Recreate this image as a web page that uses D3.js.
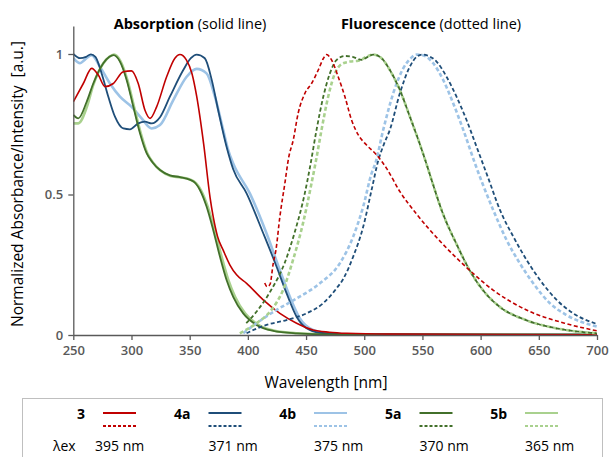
<!DOCTYPE html>
<html>
<head>
<meta charset="utf-8">
<script src="https://d3js.org/d3.v7.min.js"></script>
<style>
    body { margin: 0; background: #fff; }
    text { font-family: "Open Sans", sans-serif; }
</style>
</head>
<body>
<script>
    // compounds and their excitation wavelengths
    var compounds = ["3", "4a", "4b", "5a", "5b"];
    var excitation = ["395 nm", "371 nm", "375 nm", "370 nm", "365 nm"];
    var xTicks = [250, 300, 350, 400, 450, 500, 550, 600, 650, 700];
    var yTicks = [0, 0.5, 1];

    // absorption spectra [wavelength, normalized value]
    var abs3 = [[250,0.83],[258.6,0.895],[265.8,0.949],[271.5,0.925],[277.2,0.884],[284.4,0.895],[293,0.937],[300,0.94],
        [305.8,0.895],[311.6,0.80],[316,0.771],[321.6,0.812],[330.2,0.919],[337.3,0.985],[341.6,0.998],[347,0.98],
        [352,0.93],[356,0.85],[362,0.68],[367.5,0.49],[370.2,0.421],[374,0.35],[378.8,0.302],[384.6,0.249],
        [390.3,0.214],[398.9,0.184],[413.2,0.125],[427.5,0.077],[441.9,0.042],[456,0.018],[470,0.01],[485,0.006],
        [520,0.003],[700,0.001]];
    var abs4a = [[250,1.0],[255.8,0.985],[261,0.99],[265,0.999],[269,0.99],[274.4,0.93],[280.1,0.848],[285.8,0.777],
        [293,0.735],[298.7,0.732],[305.8,0.753],[311.6,0.759],[317.3,0.753],[324.5,0.775],[333,0.848],[344.5,0.943],
        [351,0.985],[356,0.998],[363,0.985],[369,0.907],[374.5,0.80],[381.7,0.67],[387.4,0.59],[398.9,0.504],
        [413.2,0.362],[424.7,0.243],[433.3,0.148],[441.9,0.065],[450.4,0.024],[462,0.008],[480,0.003],[700,0.001]];
    var abs4b = [[250,0.985],[255.8,0.967],[260,0.98],[265.8,0.996],[272.9,0.955],[281.5,0.895],[290.1,0.848],
        [300.1,0.812],[308.7,0.771],[317.3,0.735],[324.5,0.747],[335.9,0.836],[347.4,0.919],[356,0.947],[364.5,0.931],
        [371.7,0.848],[378.8,0.73],[383,0.66],[387.4,0.61],[401.7,0.504],[416,0.362],[427.5,0.231],[436.1,0.136],
        [444.7,0.059],[456,0.018],[470,0.006],[490,0.002],[700,0.001]];
    var abs5a = [[250,0.783],[254.3,0.771],[261.5,0.83],[267.2,0.895],[275.8,0.967],[281,0.99],[284.4,0.996],
        [290.1,0.973],[295.9,0.907],[301.6,0.812],[307.3,0.718],[313,0.647],[318,0.615],[324.5,0.587],[333,0.568],
        [341.6,0.562],[350,0.553],[355,0.54],[358.8,0.516],[364.5,0.457],[370.2,0.374],[376,0.279],[381.7,0.196],
        [387.4,0.136],[396,0.077],[407.4,0.036],[421.8,0.015],[441.9,0.006],[470,0.002],[700,0.001]];
    var abs5b = [[250,0.753],[254.3,0.753],[261.5,0.81],[267.2,0.89],[275.8,0.967],[281,0.99],[285,0.998],
        [290.5,0.975],[296.5,0.907],[302.2,0.812],[308,0.718],[313.6,0.647],[318.6,0.613],[325,0.585],[333.5,0.566],
        [342,0.561],[350.5,0.553],[355.6,0.54],[359.6,0.516],[365.5,0.457],[371.4,0.374],[377.4,0.279],[383.2,0.196],
        [389,0.136],[397.6,0.077],[409,0.036],[423,0.015],[443,0.006],[470,0.002],[700,0.001]];

    // fluorescence spectra [wavelength, normalized value]
    var fl3 = [[414.5,0.185],[416.5,0.172],[419,0.18],[421.8,0.255],[424.1,0.302],[427.5,0.421],[431.8,0.54],
        [435,0.63],[439,0.694],[443.2,0.789],[449,0.86],[454.7,0.895],[460.5,0.943],[465,0.985],[467.6,0.998],
        [471.9,0.979],[477.6,0.919],[483.4,0.848],[489.1,0.765],[494.9,0.712],[502,0.676],[510.6,0.641],[519.2,0.593],
        [530.7,0.51],[545,0.43],[566,0.33],[588,0.24],[610.7,0.16],[639.4,0.089],[673.8,0.04],[700,0.015]];
    var fl4a = [[398.9,0.006],[407,0.022],[416,0.036],[433.2,0.053],[450.4,0.077],[464.7,0.113],[476,0.165],
        [482,0.2],[490.5,0.279],[499.1,0.385],[506.3,0.516],[512,0.62],[517,0.68],[522,0.73],[530.6,0.86],
        [539.2,0.955],[545,0.99],[550,0.998],[554,0.995],[562.1,0.973],[570.7,0.919],[579.3,0.848],[587.9,0.765],
        [596.5,0.67],[606.4,0.56],[616.6,0.445],[628.1,0.35],[639.5,0.267],[651,0.196],[665.3,0.125],[679.6,0.077],
        [700,0.039]];
    var fl4b = [[396,0.006],[407.4,0.042],[424.6,0.089],[441.8,0.13],[461.9,0.184],[479,0.255],[490.5,0.35],
        [499.1,0.457],[506.3,0.575],[509.5,0.61],[516.3,0.73],[524.9,0.86],[533.5,0.949],[540,0.985],[545,0.998],
        [549,0.997],[559.3,0.967],[567.9,0.907],[576.5,0.824],[585.1,0.73],[595.1,0.611],[601.5,0.54],[610.8,0.445],
        [622.3,0.338],[633.7,0.255],[645.2,0.184],[659.5,0.113],[673.8,0.071],[700,0.03]];
    var fl5a = [[398.6,0.042],[408.6,0.089],[420,0.16],[431.5,0.255],[440,0.362],[448.9,0.504],[453.5,0.6],
        [459,0.73],[464.8,0.848],[470.5,0.931],[476.3,0.979],[483.4,0.993],[490,0.99],[497.7,0.979],[503,0.99],
        [507.7,0.998],[514.9,0.985],[522,0.943],[530.6,0.872],[539.2,0.777],[547.7,0.68],[553,0.615],[558,0.55],
        [567.5,0.433],[579,0.326],[590.5,0.231],[601.9,0.16],[616.2,0.101],[639.1,0.053],[664.9,0.024],[700,0.006]];
    var fl5b = [[393.1,0.006],[407.4,0.042],[420.2,0.089],[430.2,0.16],[438.8,0.267],[447.4,0.398],[454.7,0.54],
        [458.5,0.62],[463.3,0.73],[469,0.848],[474.8,0.931],[480.5,0.964],[487.7,0.973],[494.9,0.976],[502,0.99],
        [507.7,0.998],[514.9,0.985],[522,0.943],[530.6,0.872],[539.2,0.777],[547.7,0.68],[553,0.615],[558,0.55],
        [567.5,0.433],[579,0.326],[590.5,0.231],[601.9,0.16],[616.2,0.101],[639.1,0.053],[664.9,0.024],[700,0.006]];

    var colors = ["#c00000", "#1f4e79", "#9dc3e6", "#42702a", "#a9d18e"];
    var widths = [1.6, 1.8, 2.6, 1.8, 2.6];

    var W = 609, H = 457;
    var svg = d3.select("body").append("svg")
        .attr("width", W)
        .attr("height", H);

    var x = d3.scaleLinear().domain([250, 700]).range([73.3, 597]);
    var y = d3.scaleLinear().domain([0, 1.1]).range([335, 25.9]);

    var line = d3.line()
        .x(d => x(d[0]))
        .y(d => y(d[1]))
        .curve(d3.curveMonotoneX);

    svg.append("clipPath").attr("id", "plot")
        .append("rect").attr("x", 73).attr("y", 20).attr("width", 526).attr("height", 318);

    var series = [
        {abs: abs3, fl: fl3, i: 0},
        {abs: abs4a, fl: fl4a, i: 1},
        {abs: abs4b, fl: fl4b, i: 2},
        {abs: abs5a, fl: fl5a, i: 3},
        {abs: abs5b, fl: fl5b, i: 4}
    ];
    // light curves underneath the dark ones
    var drawOrder = [2, 4, 1, 3, 0];

    var g = svg.append("g").attr("clip-path", "url(#plot)");

    drawOrder.forEach(function(k) {
        var s = series[k];
        g.append("path")
            .attr("d", line(s.abs))
            .attr("fill", "none")
            .attr("stroke", colors[s.i])
            .attr("stroke-width", widths[s.i]);
    });
    drawOrder.forEach(function(k) {
        var s = series[k];
        g.append("path")
            .attr("d", line(s.fl))
            .attr("fill", "none")
            .attr("stroke", colors[s.i])
            .attr("stroke-width", widths[s.i])
            .attr("stroke-dasharray", "4,2.5");
    });

    // axes
    var xAxis = svg.append("g")
        .attr("transform", "translate(0,335)")
        .call(d3.axisBottom(x).tickValues(xTicks).tickSize(5).tickSizeOuter(0));
    var yAxis = svg.append("g")
        .attr("transform", "translate(73.3,0)")
        .call(d3.axisLeft(y).tickValues(yTicks).tickSize(5).tickSizeOuter(0).tickFormat(d3.format("")));

    [xAxis, yAxis].forEach(function(a) {
        a.select(".domain").attr("stroke", "#595959").attr("stroke-width", 1.3);
        a.selectAll(".tick line").attr("stroke", "#595959").attr("stroke-width", 1.3);
        a.selectAll(".tick text")
            .attr("fill", "#595959")
            .style("font-size", "13px")
            .style("font-weight", "600");
    });
    xAxis.selectAll(".tick text").attr("dy", "0.9em");
    yAxis.selectAll(".tick text").attr("dx", "-2px");

    svg.append("text")
        .attr("x", 326)
        .attr("y", 388)
        .attr("text-anchor", "middle")
        .style("font-size", "15.5px")
        .style("fill", "#000")
        .text("Wavelength [nm]");

    svg.append("text")
        .attr("transform", "translate(23,184) rotate(-90)")
        .attr("text-anchor", "middle")
        .style("font-size", "15.5px")
        .style("fill", "#000")
        .attr("xml:space", "preserve")
        .text("Normalized Absorbance/Intensity  [a.u.]");

    // section titles
    var t1 = svg.append("text").attr("x", 190).attr("y", 29).attr("text-anchor", "middle")
        .style("font-size", "14.5px");
    t1.append("tspan").style("font-weight", "700").text("Absorption");
    t1.append("tspan").text(" (solid line)");

    var t2 = svg.append("text").attr("x", 431).attr("y", 29).attr("text-anchor", "middle")
        .style("font-size", "14.5px");
    t2.append("tspan").style("font-weight", "700").text("Fluorescence");
    t2.append("tspan").text(" (dotted line)");

    // legend
    svg.append("rect")
        .attr("x", 22.5).attr("y", 398.5)
        .attr("width", 580).attr("height", 80)
        .attr("fill", "none")
        .attr("stroke", "#bfbfbf");

    svg.append("text")
        .attr("x", 53).attr("y", 451)
        .style("font-size", "14px")
        .text("λex");

    compounds.forEach(function(c, i) {
        var x0 = 103 + i * 105.5;
        svg.append("text")
            .attr("x", x0 - 18).attr("y", 419)
            .attr("text-anchor", "end")
            .style("font-size", "14px")
            .style("font-weight", "700")
            .text(c);
        svg.append("line")
            .attr("x1", x0).attr("x2", x0 + 33)
            .attr("y1", 413).attr("y2", 413)
            .attr("stroke", colors[i]).attr("stroke-width", 1.8);
        svg.append("line")
            .attr("x1", x0).attr("x2", x0 + 33)
            .attr("y1", 426).attr("y2", 426)
            .attr("stroke", colors[i]).attr("stroke-width", 1.8)
            .attr("stroke-dasharray", "3,2");
        svg.append("text")
            .attr("x", i === 0 ? x0 - 8 : x0).attr("y", 451)
            .style("font-size", "14px")
            .text(excitation[i]);
    });
</script>
</body>
</html>
